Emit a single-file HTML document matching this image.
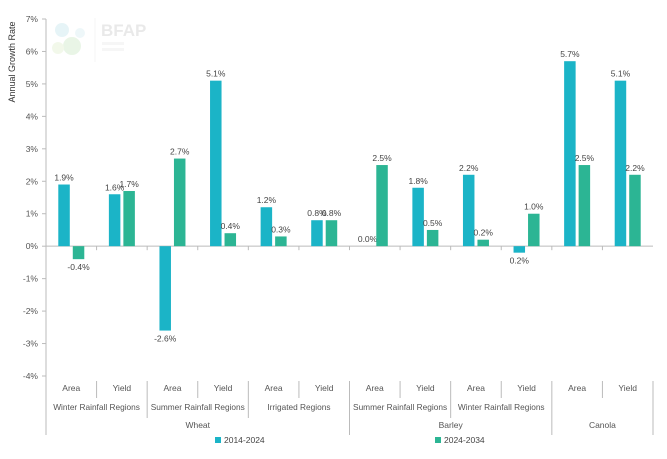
<!DOCTYPE html>
<html><head><meta charset="utf-8">
<style>
html,body{margin:0;padding:0;background:#fff;}
svg{display:block;font-family:"Liberation Sans",sans-serif;}
</style></head>
<body>
<svg id="chart" width="667" height="459" viewBox="0 0 667 459">
  <g opacity="0.25">
    <circle cx="62" cy="30" r="7" fill="#9fd6e0"/>
    <circle cx="72" cy="46" r="9" fill="#a9d9a0"/>
    <circle cx="58" cy="48" r="6" fill="#cfe6b0"/>
    <circle cx="80" cy="33" r="5" fill="#bfe0e8"/>
    <line x1="95" y1="18" x2="95" y2="62" stroke="#ddd"/>
    <text x="101" y="36" font-size="17" fill="#aaa" font-weight="bold">BFAP</text>
    <rect x="102" y="42" width="22" height="3" fill="#ddd"/>
    <rect x="102" y="48" width="22" height="3" fill="#ddd"/>
  </g>
  <text transform="translate(15,62) rotate(-90)" text-anchor="middle" font-size="9" fill="#333">Annual Growth Rate</text>
  <g id="yaxis"></g>
  <g id="bars"></g>
  <g id="xaxis"></g>
  <g>
    <g>
      <rect x="215" y="437" width="6" height="6" fill="#1bb4c7"/>
      <text x="224" y="443" font-size="8.5" fill="#444">2014-2024</text>
    </g>
    <g>
      <rect x="435" y="437" width="6" height="6" fill="#2cb594"/>
      <text x="444" y="443" font-size="8.5" fill="#444">2024-2034</text>
    </g>
  </g>
</svg>
<script>
const categories = ["Area","Yield","Area","Yield","Area","Yield","Area","Yield","Area","Yield","Area","Yield"];
const regions = ["Winter Rainfall Regions","Summer Rainfall Regions","Irrigated Regions","Summer Rainfall Regions","Winter Rainfall Regions",""];
const crops = ["Wheat","Barley","Canola"];
const cropSpans = [6,4,2];
const series2014 = [1.9,1.6,-2.6,5.1,1.2,0.8,0.0,1.8,2.2,-0.2,5.7,5.1];
const labels2014 = ["1.9%","1.6%","-2.6%","5.1%","1.2%","0.8%","0.0%","1.8%","2.2%","0.2%","5.7%","5.1%"];
const series2024 = [-0.4,1.7,2.7,0.4,0.3,0.8,2.5,0.5,0.2,1.0,2.5,2.2];
const labels2024 = ["-0.4%","1.7%","2.7%","0.4%","0.3%","0.8%","2.5%","0.5%","0.2%","1.0%","2.5%","2.2%"];
const yTicks = [-4,-3,-2,-1,0,1,2,3,4,5,6,7];

const NS="http://www.w3.org/2000/svg";
const x0=46, x1=653, yTop=19, yBot=376, vMin=-4, vMax=7;
const cw=(x1-x0)/categories.length;
function y(v){return yBot-(v-vMin)/(vMax-vMin)*(yBot-yTop);}
function xc(i){return x0+cw*(i+0.5);}
function mk(tag,attrs,parent){const e=document.createElementNS(NS,tag);for(const k in attrs)e.setAttribute(k,attrs[k]);parent.appendChild(e);return e;}
const ya=document.getElementById('yaxis'), bars=document.getElementById('bars'), xa=document.getElementById('xaxis');

let ax=mk('line',{x1:x0,y1:yTop,x2:x0,y2:435,stroke:'#bbb'},ya);


yTicks.forEach(t=>{
  mk('line',{x1:x0-4,y1:y(t),x2:x0,y2:y(t),stroke:'#bbb'},ya);
  const tx=mk('text',{x:x0-8,y:y(t)+3,'text-anchor':'end','font-size':'8.5',fill:'#555'},ya);
  tx.textContent=t+'%';
  
  
});
let zl=mk('line',{x1:x0,y1:y(0),x2:x1,y2:y(0),stroke:'#bbb'},ya);



const bw=11.5;
categories.forEach((c,i)=>{
  [[series2014,labels2014,'#1bb4c7',-bw-1.5,'2014'],[series2024,labels2024,'#2cb594',1.5,'2024']].forEach(([s,l,col,off,nm])=>{
    const v=s[i], bx=xc(i)+off;
    const r=mk('rect',{x:bx,y:Math.min(y(v),y(0)),width:bw,height:Math.max(Math.abs(y(v)-y(0)),0.01),fill:col},bars);
    
    
    const ty = v>=0 ? y(v)-4 : y(v)+11;
    const t=mk('text',{x:bx+bw/2,y:ty,'text-anchor':'middle','font-size':'8.5',fill:'#444'},bars);
    t.textContent=l[i];
    
    
  });
  const t=mk('text',{x:xc(i),y:391,'text-anchor':'middle','font-size':'8.5',fill:'#555'},xa);
  t.textContent=c;
  
  
  if(i>0){
    const b=x0+cw*i;
    const len = (i===6||i===10)?435:(i%2===0?418:398);
    mk('line',{x1:b,y1:y(0),x2:b,y2:y(0)+4,stroke:'#bbb'},xa);
    mk('line',{x1:b,y1:381,x2:b,y2:len,stroke:'#bbb'},xa);
  }
});
mk('line',{x1:x1,y1:381,x2:x1,y2:435,stroke:'#bbb'},xa);
regions.forEach((r,j)=>{
  if(!r) return;
  const t=mk('text',{x:x0+cw*(2*j+1),y:410,'text-anchor':'middle','font-size':'8.3',fill:'#555'},xa);
  t.textContent=r;
  
  
});
let start=0;
crops.forEach((c,k)=>{
  const mid=x0+cw*(start+cropSpans[k]/2);
  start+=cropSpans[k];
  const t=mk('text',{x:mid,y:428,'text-anchor':'middle','font-size':'8.5',fill:'#555'},xa);
  t.textContent=c;
  
  
});
</script>
</body></html>
